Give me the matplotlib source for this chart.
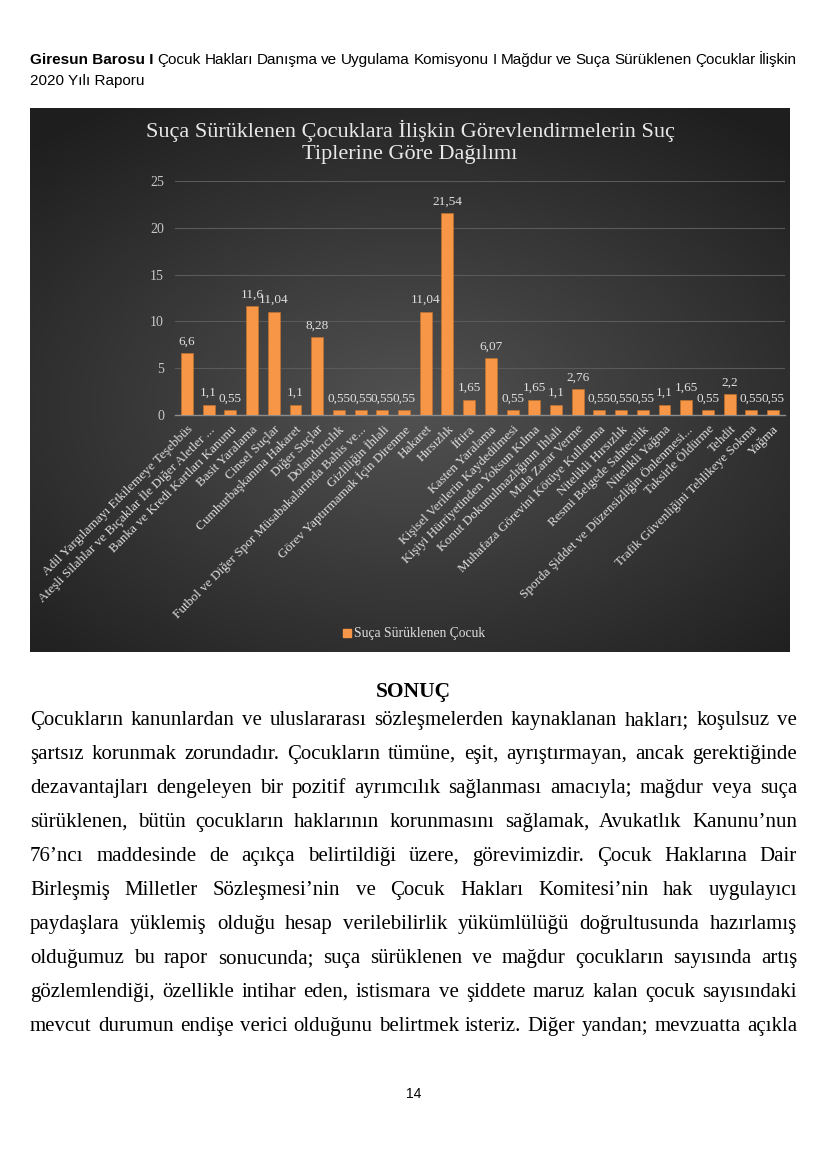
# page with the "Suça Sürüklenen Çocuklar" bar chart, recreated as a figure
import numpy as np
import matplotlib
matplotlib.use('Agg')
import matplotlib.pyplot as plt
from matplotlib.patches import Rectangle

# ---- data ----
categories = [
    "Adil Yargılamayı Etkilemeye Teşebbüs",
    "Ateşli Silahlar ve Bıçaklar İle Diğer Aletler ...",
    "Banka ve Kredi Kartları Kanunu",
    "Basit Yaralama",
    "Cinsel Suçlar",
    "Cumhurbaşkanına Hakaret",
    "Diğer Suçlar",
    "Dolandırıcılık",
    "Futbol ve Diğer Spor Müsabakalarında Bahis ve...",
    "Gizliliğin İhlali",
    "Görev Yaptırmamak İçin Direnme",
    "Hakaret",
    "Hırsızlık",
    "İftira",
    "Kasten Yaralama",
    "Kişisel Verilerin Kaydedilmesi",
    "Kişiyi Hürriyetinden Yoksun Kılma",
    "Konut Dokunulmazlığının İhlali",
    "Mala Zarar Verme",
    "Muhafaza Görevini Kötüye Kullanma",
    "Nitelikli Hırsızlık",
    "Resmi Belgede Sahtecilik",
    "Nitelikli Yağma",
    "Sporda Şiddet ve Düzensizliğin Önlenmesi...",
    "Taksirle Öldürme",
    "Tehdit",
    "Trafik Güvenliğini Tehlikeye Sokma",
    "Yağma",
]
values = [6.6, 1.1, 0.55, 11.6, 11.04, 1.1, 8.28, 0.55, 0.55, 0.55, 0.55,
          11.04, 21.54, 1.65, 6.07, 0.55, 1.65, 1.1, 2.76, 0.55, 0.55, 0.55,
          1.1, 1.65, 0.55, 2.2, 0.55, 0.55]
y_ticks = [0, 5, 10, 15, 20, 25]
series_name = "Suça Sürüklenen Çocuk"
chart_title = "Suça Sürüklenen Çocuklara İlişkin Görevlendirmelerin Suç\nTiplerine Göre Dağılımı"

header_lines = [
    "Çocuk Hakları Danışma ve Uygulama Komisyonu I Mağdur ve Suça Sürüklenen Çocuklar İlişkin",
    "2020 Yılı Raporu",
]
body_lines = [
    "Çocukların kanunlardan ve uluslararası sözleşmelerden kaynaklanan hakları; koşulsuz ve",
    "şartsız korunmak zorundadır. Çocukların tümüne, eşit, ayrıştırmayan, ancak gerektiğinde",
    "dezavantajları dengeleyen bir pozitif ayrımcılık sağlanması amacıyla; mağdur veya suça",
    "sürüklenen, bütün çocukların haklarının korunmasını sağlamak, Avukatlık Kanunu’nun",
    "76’ncı maddesinde de açıkça belirtildiği üzere, görevimizdir. Çocuk Haklarına Dair",
    "Birleşmiş Milletler Sözleşmesi’nin ve Çocuk Hakları Komitesi’nin hak uygulayıcı",
    "paydaşlara yüklemiş olduğu hesap verilebilirlik yükümlülüğü doğrultusunda hazırlamış",
    "olduğumuz bu rapor sonucunda; suça sürüklenen ve mağdur çocukların sayısında artış",
    "gözlemlendiği, özellikle intihar eden, istismara ve şiddete maruz kalan çocuk sayısındaki",
    "mevcut durumun endişe verici olduğunu belirtmek isteriz. Diğer yandan; mevzuatta açıkla",
]

W, H = 827, 1170
SERIF = ['Liberation Serif', 'DejaVu Serif']
SANS = ['Liberation Sans', 'DejaVu Sans']

fig = plt.figure(figsize=(W / 100, H / 100), dpi=100)
fig.patch.set_facecolor('white')


def fx(x):
    return x / W


def fy(y):
    return 1 - y / H


def justify(words, y, x0, x1, **kw):
    # place words one by one so the line fills x0..x1
    renderer = fig.canvas.get_renderer()
    texts = [fig.text(0, fy(y), w, va='baseline', ha='left', **kw) for w in words]
    widths = [t.get_window_extent(renderer).width for t in texts]
    gap = (x1 - x0 - sum(widths)) / max(len(words) - 1, 1)
    x = x0
    for t, w in zip(texts, widths):
        t.set_x(fx(x))
        x += w + gap


# ---- header ----
renderer = fig.canvas.get_renderer()
hb = fig.text(fx(30), fy(64), "Giresun Barosu I ", family=SANS, fontsize=11,
              fontweight='bold', va='baseline', color='black')
bw = hb.get_window_extent(renderer).width
justify(header_lines[0].split(), 64, 30 + bw, 797, family=SANS, fontsize=11, color='black')
fig.text(fx(30), fy(85), header_lines[1], family=SANS, fontsize=11, va='baseline', color='black')

# ---- chart background (dark radial gradient) ----
cx0, cx1, cy0, cy1 = 30, 790, 108, 652
bg = fig.add_axes([fx(cx0), fy(cy1), fx(cx1 - cx0), (cy1 - cy0) / H])
gx, gy = np.meshgrid(np.linspace(-1, 1, 400), np.linspace(-1, 1, 300))
r = np.sqrt((gx * 1.0) ** 2 + ((gy + 0.1) * 1.1) ** 2)
shade = np.clip(1 - r / 1.45, 0, 1)
lo, hi = np.array([0.12, 0.12, 0.12]), np.array([0.32, 0.32, 0.32])
img = lo + (hi - lo) * shade[..., None]
bg.imshow(img, aspect='auto', extent=[0, 1, 0, 1], origin='lower')
bg.set_xlim(0, 1)
bg.set_ylim(0, 1)
bg.axis('off')

# chart title
bg.text(0.5, (cy1 - 142) / (cy1 - cy0), chart_title, ha='center', va='center',
        family=SERIF, fontsize=16, color='#e8e8e8', linespacing=1.2)

# ---- plot area ----
px0, px1, py_top, py_zero = 175, 785, 181, 415
ax = fig.add_axes([fx(px0), fy(py_zero), fx(px1 - px0), (py_zero - py_top) / H])
ax.set_facecolor('none')
xpos = np.arange(len(values))
bars = ax.bar(xpos, values, width=0.55, color='#f79646', zorder=3,
              edgecolor='#c8732b', linewidth=0.4)
for b, v in zip(bars, values):
    lbl = ('%g' % v).replace('.', ',')
    ax.text(b.get_x() + b.get_width() / 2, v + 0.6, lbl, ha='center', va='bottom',
            family=SERIF, fontsize=9.5, color='#e0e0e0', zorder=4)

ax.set_ylim(0, 25)
ax.set_xlim(-0.55, len(values) - 0.45)
ax.set_yticks(y_ticks)
ax.set_yticklabels([str(t) for t in y_ticks], family=SERIF, fontsize=10, color='#c8c8c8')
ax.yaxis.grid(True, color='#5a5a5a', linewidth=0.8, zorder=0)
ax.set_axisbelow(True)
for s in ['top', 'right', 'left']:
    ax.spines[s].set_visible(False)
ax.spines['bottom'].set_color('#8c8c8c')
ax.spines['bottom'].set_linewidth(1.0)
ax.tick_params(axis='y', length=0, pad=8)
ax.tick_params(axis='x', length=0, pad=6)
ax.set_xticks(xpos)
ax.set_xticklabels(categories, rotation=45, ha='right', va='top', rotation_mode='anchor',
                   family=SERIF, fontsize=9.5, color='#dcdcdc')

# legend
bg.add_patch(Rectangle(((343 - cx0) / (cx1 - cx0), (cy1 - 637) / (cy1 - cy0)),
                       8 / (cx1 - cx0), 8 / (cy1 - cy0), color='#f79646',
                       transform=bg.transAxes))
bg.text((354 - cx0) / (cx1 - cx0), (cy1 - 633) / (cy1 - cy0), series_name,
        ha='left', va='center', family=SERIF, fontsize=9.8, color='#dcdcdc')

# ---- conclusion text ----
fig.text(0.5, fy(697), "SONUÇ", ha='center', va='baseline', family=SERIF,
         fontsize=15.5, fontweight='bold', color='black')
for i, line in enumerate(body_lines):
    justify(line.split(), 725 + 34 * i, 30, 797, family=SERIF, fontsize=15, color='black')

fig.text(0.5, fy(1098), "14", ha='center', va='baseline', family=SANS,
         fontsize=10, color='black')

fig.savefig('out.png', dpi=100)
plt.close(fig)
